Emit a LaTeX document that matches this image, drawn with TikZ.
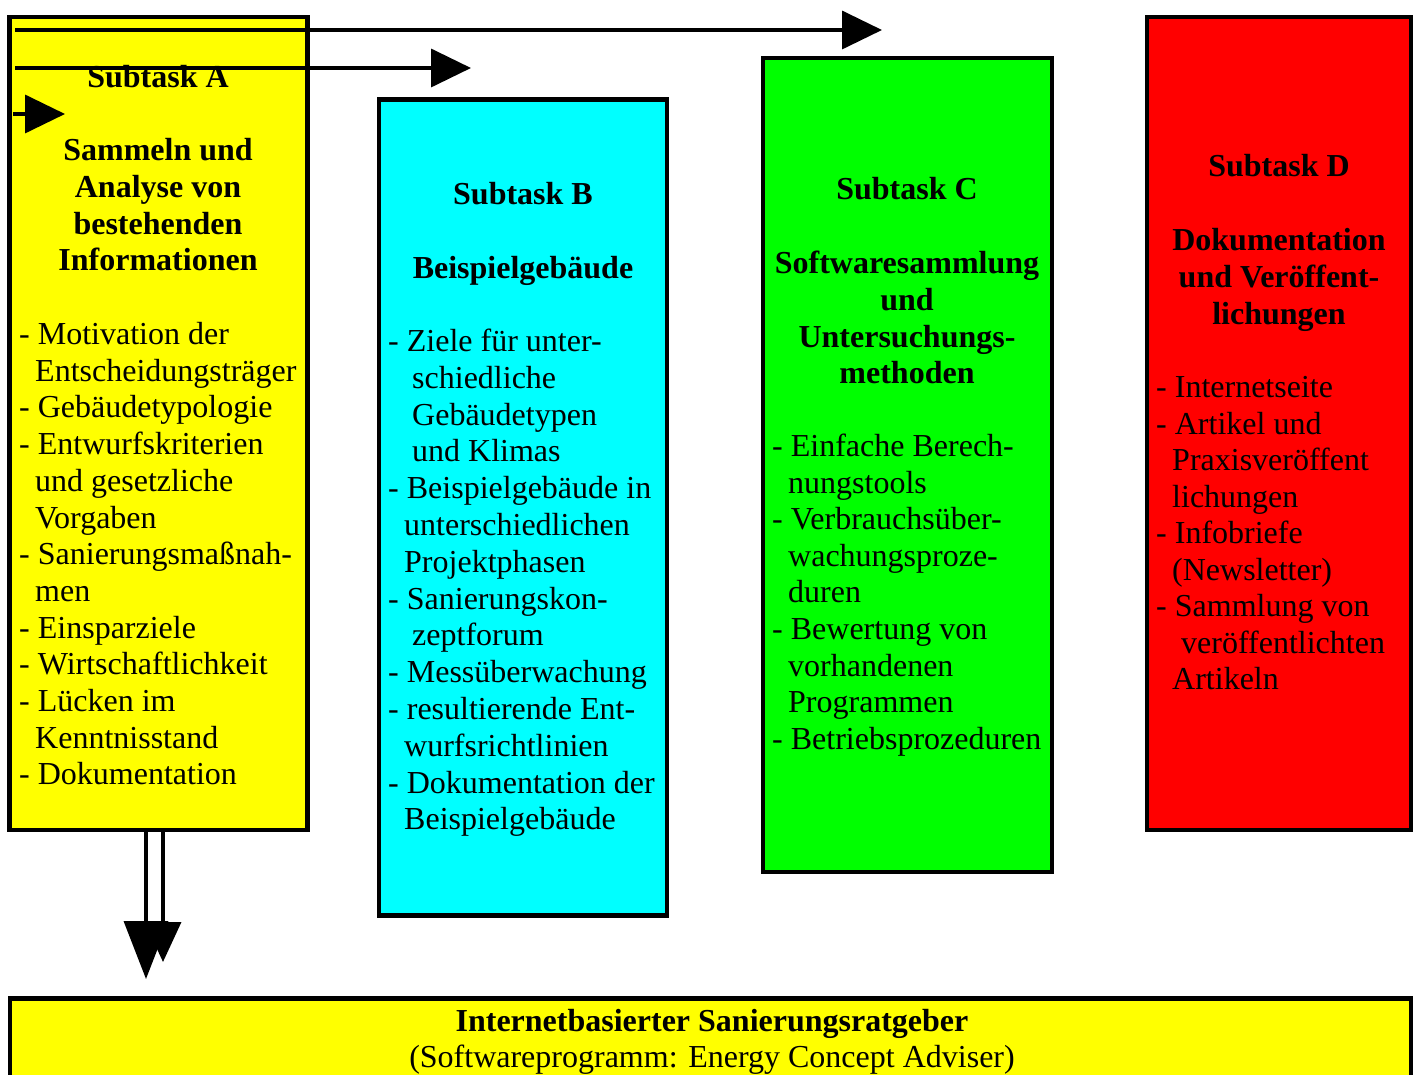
\documentclass[tikz,border=0pt]{standalone}
\usepackage{fontspec}
\setmainfont{Liberation Serif}
\usetikzlibrary{arrows.meta}
\definecolor{cYel}{RGB}{255,255,0}
\definecolor{cCya}{RGB}{0,255,255}
\definecolor{cGrn}{RGB}{0,255,0}
\definecolor{cRed}{RGB}{255,0,0}
\tikzset{
  taskbox/.style={draw=black, line width=4.5pt, inner sep=0pt, outer sep=0pt, anchor=north west},
  headtxt/.style={anchor=base, inner sep=0pt, font=\fontsize{32}{36.8}\selectfont\bfseries},
  itemtxt/.style={anchor=base west, inner sep=0pt, font=\fontsize{32}{36.8}\selectfont},
  flow/.style={line width=3.6pt, -{Triangle[length=40pt,width=38pt]}},
}
\begin{document}
\begin{tikzpicture}[x=1pt,y=-1pt]
\useasboundingbox (0,0) rectangle (1417,1075);
% boxes
\node[taskbox, fill=cYel, minimum width=298pt, minimum height=813pt] (A) at (9.5,17) {};
\node[taskbox, fill=cCya, minimum width=288pt, minimum height=816pt] (B) at (379,99.5) {};
\node[taskbox, fill=cGrn, minimum width=289pt, minimum height=814pt] (C) at (763,58) {};
\node[taskbox, fill=cRed, minimum width=264pt, minimum height=813pt] (D) at (1147,17) {};
\node[taskbox, fill=cYel, minimum width=1401pt, minimum height=100pt] (E) at (10,998.5) {};
% headings
\node[headtxt] (Ah0) at (158,87.5) {Subtask A};
\foreach \txt [count=\i] in {Sammeln und, Analyse von, bestehenden, Informationen}
  \node[headtxt] (Ah\i) at (158,{160.5+(\i-1)*36.8}) {\txt};
\node[headtxt] (Bh0) at (523,204.5) {Subtask B};
\node[headtxt] (Bh1) at (523,278.5) {Beispielgebäude};
\node[headtxt] (Ch0) at (907,199.5) {Subtask C};
\foreach \txt [count=\i] in {Softwaresammlung, und, Untersuchungs-, methoden}
  \node[headtxt] (Ch\i) at (907,{273.5+(\i-1)*36.8}) {\txt};
\node[headtxt] (Dh0) at (1279,176.5) {Subtask D};
\foreach \txt [count=\i] in {Dokumentation, und Veröffent-, lichungen}
  \node[headtxt] (Dh\i) at (1279,{250.5+(\i-1)*36.8}) {\txt};
% item lists
\foreach \xx/\txt [count=\i] in {19/- Motivation der, 35/Entscheidungsträger, 19/- Gebäudetypologie,
  19/- Entwurfskriterien, 35/und gesetzliche, 35/Vorgaben, 19/- Sanierungsmaßnah-, 35/men,
  19/- Einsparziele, 19/- Wirtschaftlichkeit, 19/- Lücken im, 35/Kenntnisstand, 19/- Dokumentation}
  \node[itemtxt] (Ai\i) at (\xx,{344.5+(\i-1)*36.7}) {\txt};
\foreach \xx/\txt [count=\i] in {388/- Ziele für unter-, 412/schiedliche, 412/Gebäudetypen, 412/und Klimas,
  388/- Beispielgebäude in, 404/unterschiedlichen, 404/Projektphasen, 388/- Sanierungskon-,
  412/zeptforum, 388/- Messüberwachung, 388/- resultierende Ent-, 404/wurfsrichtlinien,
  388/- Dokumentation der, 404/Beispielgebäude}
  \node[itemtxt] (Bi\i) at (\xx,{351.5+(\i-1)*36.8}) {\txt};
\foreach \xx/\txt [count=\i] in {772/- Einfache Berech-, 788/nungstools, 772/- Verbrauchsüber-,
  788/wachungsproze-, 788/duren, 772/- Bewertung von, 788/vorhandenen, 788/Programmen,
  772/- Betriebsprozeduren}
  \node[itemtxt] (Ci\i) at (\xx,{456.5+(\i-1)*36.6}) {\txt};
\foreach \xx/\txt [count=\i] in {1156/- Internetseite, 1156/- Artikel und, 1172/Praxisveröffent,
  1172/lichungen, 1156/- Infobriefe, 1172/(Newsletter), 1156/- Sammlung von,
  1181/veröffentlichten, 1172/Artikeln}
  \node[itemtxt] (Di\i) at (\xx,{397.5+(\i-1)*36.5}) {\txt};
% bottom box text
\node[headtxt] (Et1) at (712,1031) {Internetbasierter Sanierungsratgeber};
\node[itemtxt, anchor=base] (Et2) at (712,1067) {(Softwareprogramm: Energy Concept Adviser)};
% arrows
\coordinate (s1) at (15,30);
\coordinate (t1) at (882,30);
\coordinate (s2) at (15,68);
\coordinate (t2) at (471,68);
\coordinate (s3) at (13,114);
\coordinate (t3) at (65,114);
\draw[flow] (s1) -- (t1);
\draw[flow] (s2) -- (t2);
\draw[flow] (s3) -- (t3);
\coordinate (t4) at (146,979);
\coordinate (t5) at (163,962);
\draw[line width=3.6pt, -{Triangle[length=40pt,width=36pt]}] (A.south -| t5) -- (t5);
\draw[line width=3.6pt, -{Triangle[length=58pt,width=44pt]}] (A.south -| t4) -- (t4);
\end{tikzpicture}
\end{document}
